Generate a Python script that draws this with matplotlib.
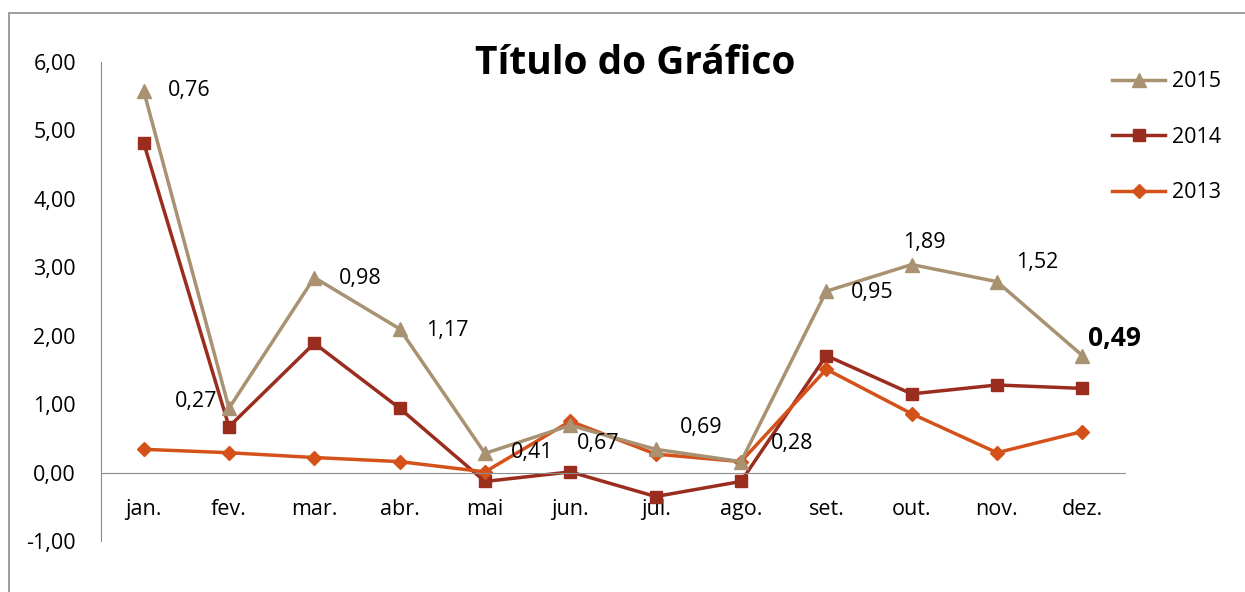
import matplotlib.pyplot as plt
from matplotlib.patches import Rectangle

plt.rcParams['font.family'] = ['Open Sans', 'DejaVu Sans']

months = ['jan.', 'fev.', 'mar.', 'abr.', 'mai', 'jun.', 'jul.', 'ago.', 'set.', 'out.', 'nov.', 'dez.']
y2015 = [5.58, 0.94, 2.85, 2.10, 0.28, 0.69, 0.34, 0.16, 2.65, 3.04, 2.79, 1.71]
y2014 = [4.82, 0.67, 1.89, 0.94, -0.13, 0.01, -0.35, -0.13, 1.71, 1.15, 1.28, 1.23]
y2013 = [0.34, 0.29, 0.22, 0.16, 0.01, 0.75, 0.27, 0.16, 1.51, 0.86, 0.29, 0.60]
labels = ['0,76', '0,27', '0,98', '1,17', '0,41', '0,67', '0,69', '0,28', '0,95', '1,89', '1,52', '0,49']
# label offsets in points relative to the 2015 points
offsets = [(33, 0), (-24, 5), (33, -1), (34, -1), (34, 1), (20, -13), (33, 16), (37, 13),
           (33, -1), (9, 16), (29, 14), (23, 12)]

fig = plt.figure(figsize=(12.45, 5.92), dpi=100)
fig.patches.append(Rectangle((9 / 1245, -0.1), 1.2, 1.1 - 13 / 592, transform=fig.transFigure,
                             fill=False, edgecolor='#8c8c8c', lw=1.2))
ax = fig.add_axes([101 / 1245, 51 / 592, 1024 / 1245, 479 / 592])

x = range(len(months))
l15, = ax.plot(x, y2015, color='#A89272', lw=2.5, marker='^', ms=10, label='2015', zorder=3)
l14, = ax.plot(x, y2014, color='#9B2D1F', lw=2.5, marker='s', ms=9, label='2014', zorder=2)
l13, = ax.plot(x, y2013, color='#D4521A', lw=2.5, marker='D', ms=7, label='2013', zorder=2)

for i, (lab, off) in enumerate(zip(labels, offsets)):
    last = i == len(labels) - 1
    ax.annotate(lab, (i, y2015[i]), xytext=off, textcoords='offset points',
                ha='center', va='center', fontsize=19 if last else 15.5,
                fontweight='bold' if last else 'normal')

for s in ['top', 'right']:
    ax.spines[s].set_visible(False)
ax.spines['bottom'].set_position(('data', 0))
ax.spines['bottom'].set_color('#8c8c8c')
ax.spines['left'].set_color('#8c8c8c')

ax.set_xlim(-0.5, 11.5)
ax.set_ylim(-1, 6)
ax.set_yticks(range(-1, 7))
ax.set_yticklabels([f'{v},00' for v in range(-1, 7)], fontsize=15.5)
ax.set_xticks(list(x))
ax.set_xticklabels(months, fontsize=15.5)
ax.tick_params(axis='y', length=0, pad=18)
ax.tick_params(axis='x', length=0, pad=19)

fig.text(635 / 1245, 1 - 64 / 592, 'Título do Gráfico', ha='center', va='center',
         fontsize=28, fontweight='bold')

fig.legend(handles=[l15, l14, l13], loc='upper left', bbox_to_anchor=(1093 / 1245, 1 - 52 / 592),
           frameon=False, fontsize=15.5, labelspacing=1.6, handlelength=2.45, handletextpad=0.3)

fig.savefig('out.png')
